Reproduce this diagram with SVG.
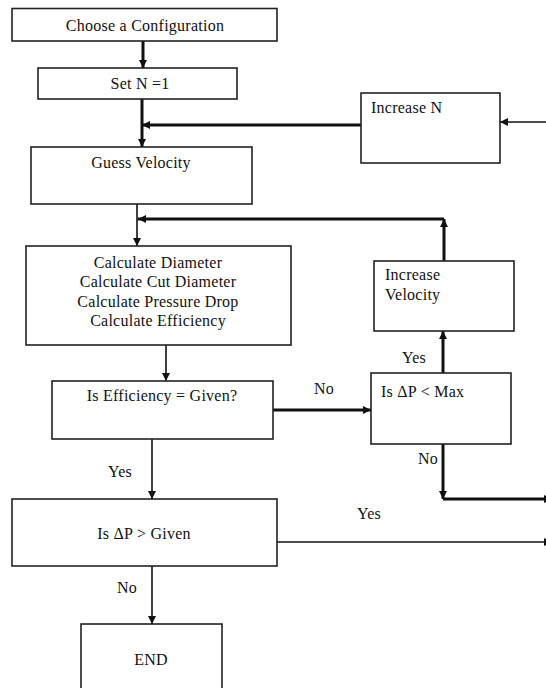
<svg xmlns="http://www.w3.org/2000/svg" width="546" height="688" viewBox="0 0 546 688">
  <defs>
    <marker id="arrow" markerUnits="userSpaceOnUse" viewBox="0 0 8 8" refX="8" refY="4" markerWidth="8" markerHeight="8" orient="auto">
      <path d="M0,0 L8,4 L0,8 z" fill="#111"/>
    </marker>
    <style>
      .box { fill: #fff; stroke: #222; stroke-width: 1.6; }
      .label { font-family: "Liberation Serif", "Times New Roman", serif; font-size: 16px; letter-spacing: 0.25px; fill: #111; }
      .mid { text-anchor: middle; }
      .thick { fill: none; stroke: #111; stroke-width: 3; }
      .thin { fill: none; stroke: #111; stroke-width: 1.6; }
      .arr { marker-end: url(#arrow); }
    </style>
  </defs>
  <rect width="546" height="688" fill="#fff"/>

  <!-- connectors -->
  <g id="connectors">
    <path class="thick arr" d="M143,41 V68"/>
    <path class="thick arr" d="M142,99 V147"/>
    <path class="thick arr" d="M361,125 H142"/>
    <path class="thin arr" d="M546,122 H500"/>
    <path class="thin arr" d="M137,204 V246"/>
    <path class="thick arr" d="M444,261 V219"/>
    <path class="thick arr" d="M444,219 H138"/>
    <path class="thin arr" d="M166,345 V381"/>
    <path class="thick arr" d="M273,410 H371"/>
    <path class="thick arr" d="M443,373 V331"/>
    <path class="thick arr" d="M443,444 V499"/>
    <path class="thick arr" d="M443,499 H552"/>
    <path class="thin arr" d="M152,439 V499"/>
    <path class="thin arr" d="M277,542 H552"/>
    <path class="thin arr" d="M152,566 V624"/>
    <text class="label" x="314" y="394">No</text>
    <text class="label" x="402" y="363">Yes</text>
    <text class="label" x="418" y="464">No</text>
    <text class="label" x="357" y="519">Yes</text>
    <text class="label" x="108" y="477">Yes</text>
    <text class="label" x="117" y="593">No</text>
  </g>

  <g id="choose-configuration">
    <rect class="box" x="12" y="8.5" width="265" height="32.5"/>
    <text class="label mid" x="145" y="31">Choose a Configuration</text>
  </g>

  <g id="set-n">
    <rect class="box" x="38" y="68" width="199" height="31"/>
    <text class="label mid" x="140" y="89">Set N =1</text>
  </g>

  <g id="increase-n">
    <rect class="box" x="361" y="93" width="139" height="70"/>
    <text class="label" x="371" y="113">Increase N</text>
  </g>

  <g id="guess-velocity">
    <rect class="box" x="31" y="147" width="221" height="57"/>
    <text class="label mid" x="141" y="168">Guess Velocity</text>
  </g>

  <g id="calculate">
    <rect class="box" x="26" y="246" width="265" height="99"/>
    <text class="label mid" x="158" y="268">Calculate Diameter</text>
    <text class="label mid" x="158" y="287">Calculate Cut Diameter</text>
    <text class="label mid" x="158" y="307">Calculate Pressure Drop</text>
    <text class="label mid" x="158" y="326">Calculate Efficiency</text>
  </g>

  <g id="increase-velocity">
    <rect class="box" x="374" y="261" width="140" height="70"/>
    <text class="label" x="385" y="280">Increase</text>
    <text class="label" x="385" y="300">Velocity</text>
  </g>

  <g id="is-efficiency-given">
    <rect class="box" x="52" y="381" width="221" height="58"/>
    <text class="label mid" x="162" y="401">Is Efficiency = Given?</text>
  </g>

  <g id="is-dp-less-max">
    <rect class="box" x="371" y="373" width="140" height="71"/>
    <text class="label" x="381" y="397">Is ΔP &lt; Max</text>
  </g>

  <g id="is-dp-greater-given">
    <rect class="box" x="12" y="499" width="265" height="67"/>
    <text class="label mid" x="144" y="539">Is ΔP &gt; Given</text>
  </g>

  <g id="end">
    <rect class="box" x="81" y="624" width="141" height="70"/>
    <text class="label mid" x="151" y="665">END</text>
  </g>
</svg>
